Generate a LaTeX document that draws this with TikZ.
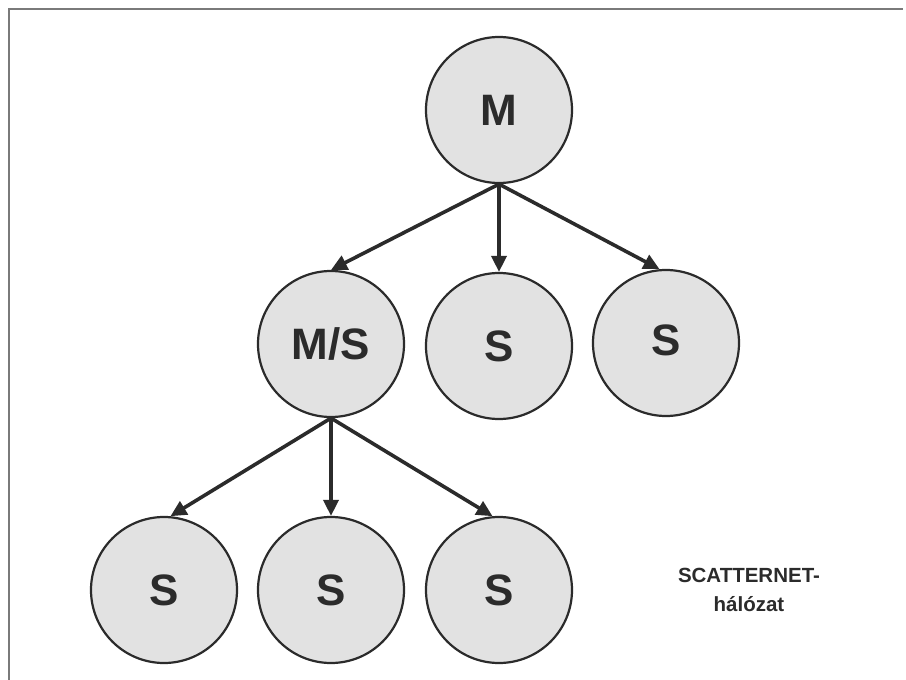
\documentclass[tikz,border=0pt]{standalone}
\usepackage{fontspec}
\setmainfont{Liberation Sans}
\usetikzlibrary{arrows.meta}
\definecolor{nodefill}{HTML}{E2E2E2}
\definecolor{ink}{HTML}{2B2B2B}
\definecolor{frame}{HTML}{7A7A7A}
\begin{document}
\begin{tikzpicture}[x=1pt,y=-1pt,
  device/.style={circle, draw=ink, line width=2.2pt, fill=nodefill,
    minimum size=146pt, inner sep=0pt, text=ink,
    font=\fontsize{44}{48}\selectfont\bfseries},
  link/.style={draw=ink, line width=3.6pt,
    -{Triangle[length=16pt,width=15pt]}},
  caption/.style={align=center, text=ink,
    font=\fontsize{20.5}{29}\selectfont\bfseries}]
  % canvas and the two visible frame edges
  \path[use as bounding box] (0,0) rectangle (906,680);
  \draw[frame, line width=1.6pt] (9,680) -- (9,9) -- (903,9);

  % master
  \node[device] (m) at (499,110) {M};
  % first piconet level
  \node[device] (ms) at (331,344) {M/S};
  \node[device] (s1) at (499,346) {S};
  \node[device] (s2) at (666,343) {\raisebox{5pt}{S}};
  % second piconet level
  \node[device] (b1) at (164,590) {S};
  \node[device] (b2) at (331,590) {S};
  \node[device] (b3) at (499,590) {S};

  % links from the master
  \draw[link] (m.south) -- (ms.north);
  \draw[link] (m.south) -- (s1.north);
  \draw[link] (m.south) -- (s2.95);
  % links from the bridge node
  \draw[link] (ms.south) -- (b1.85);
  \draw[link] (ms.south) -- (b2.north);
  \draw[link] (ms.south) -- (b3.95);

  \node[caption] (cap) at (749,590) {SCATTERNET-\\hálózat};
\end{tikzpicture}
\end{document}
